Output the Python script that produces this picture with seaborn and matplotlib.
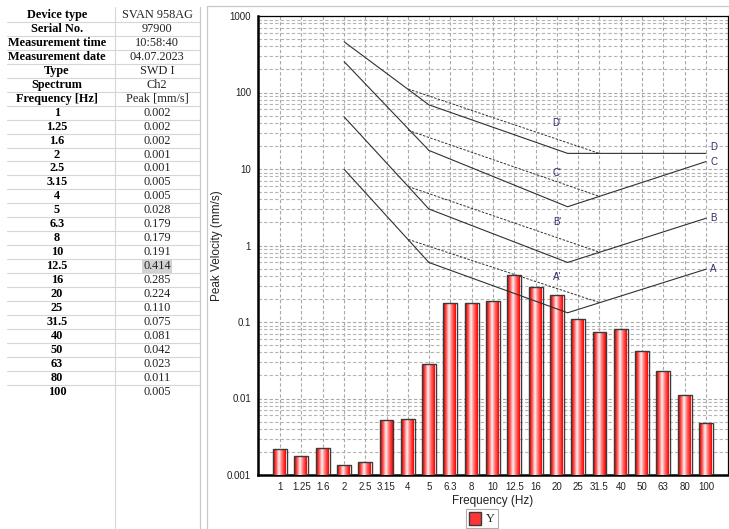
import numpy as np
import pandas as pd
import matplotlib
matplotlib.use("Agg")
import matplotlib.pyplot as plt
import seaborn as sns
from matplotlib.colors import LinearSegmentedColormap
from matplotlib.lines import Line2D
from matplotlib.patches import Patch
from matplotlib.ticker import FixedLocator, FixedFormatter, LogLocator, NullFormatter

# ---------------- data ----------------
freq_labels = ["1", "1.25", "1.6", "2", "2.5", "3.15", "4", "5", "6.3", "8", "10",
               "12.5", "16", "20", "25", "31.5", "40", "50", "63", "80", "100"]
peak_values = [0.0022, 0.00175, 0.00225, 0.00135, 0.00148, 0.0053, 0.0054, 0.028,
               0.179, 0.179, 0.191, 0.414, 0.285, 0.224, 0.110, 0.075, 0.081,
               0.042, 0.023, 0.011, 0.0048]
table_peak = ["0.002", "0.002", "0.002", "0.001", "0.001", "0.005", "0.005", "0.028",
              "0.179", "0.179", "0.191", "0.414", "0.285", "0.224", "0.110", "0.075",
              "0.081", "0.042", "0.023", "0.011", "0.005"]
info_labels = ["Device type", "Serial No.", "Measurement time", "Measurement date",
               "Type", "Spectrum", "Frequency [Hz]"]
info_values = ["SVAN 958AG", "97900", "10:58:40", "04.07.2023", "SWD I", "Ch2",
               "Peak [mm/s]"]
highlight_value = "0.414"

# limit lines (frequency in Hz, peak velocity in mm/s)
line_freqs = [2, 5, 22.4, 100]
line_A = [9.9, 0.60, 0.132, 0.49]
line_B = [48, 3.0, 0.60, 2.27]
line_C = [253, 17.5, 3.21, 12.5]
line_D = [460, 69, 16, 16]
dash_freqs = [4, 31.5]
dash_A = [1.2, 0.18]
dash_B = [5.9, 0.82]
dash_C = [32, 4.4]
dash_D = [111, 16]
prime_labels = ["A'", "B'", "C'", "D'"]
prime_label_freq = 20
prime_label_values = [0.39, 2.0, 8.9, 40]
end_labels = ["A", "B", "C", "D"]
end_label_freq = 105
end_label_values = [0.49, 2.27, 12.5, 19.5]
legend_label = "Y"

# ---------------- figure ----------------
W, H = 729, 529
fig = plt.figure(figsize=(W / 100, H / 100), dpi=100)
sns.set_style("white")
plt.rcParams["font.family"] = ["Liberation Sans", "DejaVu Sans"]


def fx(px):
    return px / W


def fy(py):
    return 1 - py / H


ax = fig.add_axes([fx(258), fy(475), fx(728) - fx(258), fy(16) - fy(475)])

df = pd.DataFrame({"freq": freq_labels, "peak": peak_values})
sns.barplot(data=df, x="freq", y="peak", order=freq_labels, ax=ax, color="red",
            width=0.65, edgecolor="#3a3a3a", linewidth=1.0, saturation=1, zorder=3)
ax.set_yscale("log")
ymin, ymax = 0.001, 1000
ax.set_ylim(ymin, ymax)
ax.set_xlim(-1.035, 21.035)

# gradient fill for bars
cmap = LinearSegmentedColormap.from_list(
    "barred", [(0, "#d80000"), (0.18, "#ff5050"), (0.40, "#fff0f0"),
               (0.62, "#ff7070"), (0.85, "#ff1010"), (1, "#d00000")])
grad = np.linspace(0, 1, 64).reshape(1, -1)
for p in list(ax.patches):
    x0 = p.get_x()
    w = p.get_width()
    h = p.get_y() + p.get_height()
    im = ax.imshow(grad, extent=[x0, x0 + w, ymin, h], aspect="auto", cmap=cmap,
                   zorder=3, interpolation="bilinear")
    im.set_clip_path(p)
    p.set_facecolor("none")
    p.set_zorder(4)
ax.set_ylim(ymin, ymax)
ax.set_xlim(-1.035, 21.035)


def pos(freqs):
    return [10 * np.log10(f) for f in freqs]


line_col = "#303030"
for vals in [line_A, line_B, line_C, line_D]:
    ax.plot(pos(line_freqs), vals, color=line_col, lw=0.8, zorder=5)
for vals in [dash_A, dash_B, dash_C, dash_D]:
    ax.plot(pos(dash_freqs), vals, color=line_col, lw=0.7, ls=(0, (2.5, 1.5)), zorder=5)

lab_col = "#2b2f6b"
for t, v in zip(prime_labels, prime_label_values):
    ax.text(pos([prime_label_freq])[0], v, t, ha="center", va="center", fontsize=7,
            color=lab_col, zorder=6)
for t, v in zip(end_labels, end_label_values):
    ax.text(pos([end_label_freq])[0], v, t, ha="left", va="center", fontsize=7,
            color=lab_col, zorder=6)

# axes styling
major = [1e-3, 1e-2, 1e-1, 1, 10, 100, 1000]
ax.yaxis.set_major_locator(FixedLocator(major))
ax.yaxis.set_major_formatter(FixedFormatter(["0.001", "0.01", "0.1", "1", "10", "100", "1000"]))
ax.yaxis.set_minor_locator(LogLocator(base=10, subs=np.arange(2, 10), numticks=20))
ax.yaxis.set_minor_formatter(NullFormatter())
ax.set_axisbelow(True)
ax.grid(which="major", axis="both", color="#a8a8a8", ls=(0, (3, 2)), lw=0.8)
ax.grid(which="minor", axis="y", color="#b4b4b4", ls=(0, (3, 2)), lw=0.8)
ax.tick_params(axis="both", which="major", labelsize=7, colors="#222222", length=3,
               width=0.8, direction="out", pad=2)
ax.tick_params(axis="y", which="minor", length=2, width=0.6, color="#222222")
for s in ["left", "bottom"]:
    ax.spines[s].set_linewidth(1.8)
    ax.spines[s].set_color("black")
for s in ["top", "right"]:
    ax.spines[s].set_linewidth(0.9)
    ax.spines[s].set_color("black")
    ax.spines[s].set_visible(True)
ax.set_xlabel("Frequency (Hz)", fontsize=8.5, color="#222222", labelpad=2)
ax.set_ylabel("Peak Velocity (mm/s)", fontsize=8.5, color="#222222")
ax.yaxis.set_label_coords((223 - 258) / 470, 0.5)

# legend
handle = Patch(facecolor="#ff3535", edgecolor="#3a3a3a", linewidth=1.0)
leg = fig.legend([handle], [legend_label], loc="upper center",
                 bbox_to_anchor=(fx(482), fy(509)), frameon=True, fancybox=False,
                 handlelength=1.0, handleheight=1.3, handletextpad=0.4,
                 borderpad=0.2, borderaxespad=0,
                 prop={"family": "Liberation Serif", "size": 9})
leg.get_frame().set_edgecolor("#9a9a9a")
leg.get_frame().set_linewidth(0.8)

# ---------------- table on the left ----------------
serif = ["Liberation Serif", "DejaVu Serif"]
row_h = 13.95
row0 = 15.0
left_c = 57
right_c = 157
rows_left = info_labels + freq_labels
rows_right = info_values + table_peak
grid_col = "#d6d6d6"
for i, (a, b) in enumerate(zip(rows_left, rows_right)):
    yc = row0 + i * row_h
    fig.text(fx(left_c), fy(yc), a, ha="center", va="center", fontsize=8.8,
             family=serif, weight="bold", color="black")
    bbox = None
    if i >= len(info_labels) and b == highlight_value:
        bbox = dict(facecolor="#d2d2d2", edgecolor="none", pad=0.8)
    fig.text(fx(right_c), fy(yc), b, ha="center", va="center", fontsize=8.8,
             family=serif, color="#222222", bbox=bbox)
    if i < len(rows_left) - 1:
        yb = yc + row_h / 2
        fig.add_artist(Line2D([fx(7), fx(200)], [fy(yb), fy(yb)], color=grid_col, lw=0.8))

fig.add_artist(Line2D([fx(115), fx(115)], [fy(7), 0], color=grid_col, lw=0.8))
fig.add_artist(Line2D([fx(200), fx(200)], [fy(7), 0], color="#c8c8c8", lw=0.9))
fig.add_artist(Line2D([fx(206.5), fx(206.5)], [fy(6), 0], color="#c8c8c8", lw=0.9))
fig.add_artist(Line2D([fx(206.5), 1], [fy(6), fy(6)], color="#c8c8c8", lw=0.9))

fig.savefig("out.png", dpi=100)
